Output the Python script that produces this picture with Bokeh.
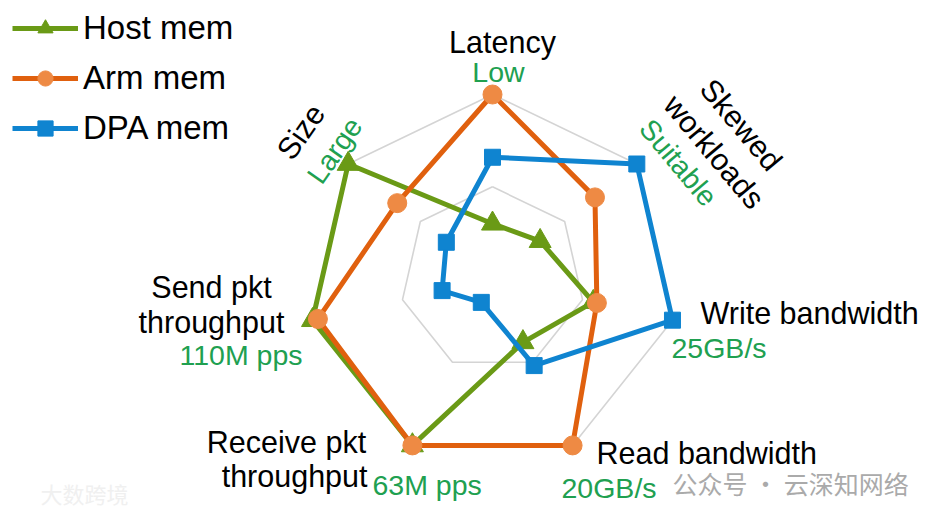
import numpy as np
from bokeh.plotting import figure
from bokeh.models import Range1d, Legend, LegendItem
from bokeh.core.properties import value
from bokeh.embed import file_html
from bokeh.resources import INLINE

# ---------------- data ----------------
categories = ["Latency", "Skewed workloads", "Write bandwidth", "Read bandwidth",
              "Receive pkt throughput", "Send pkt throughput", "Size"]
host_mem = [0.30, 0.33, 0.56, 0.38, 1.00, 1.00, 1.00]
arm_mem = [1.00, 0.71, 0.58, 1.00, 1.00, 0.97, 0.66]
dpa_mem = [0.66, 1.00, 1.00, 0.52, 0.14, 0.28, 0.32]
grid_levels = [0.5, 1.0]
series_names = ["Host mem", "Arm mem", "DPA mem"]
best_values = ["Low", "Suitable", "25GB/s", "20GB/s", "63M pps", "110M pps", "Large"]

# ---------------- layout ----------------
W, H = 925, 509
OFF = 0              # page offset of the plot frame
R = 184.6            # radius of outer ring in px
CX, CY = 492.0, 278.6  # centre in page px


def to_data(px, py):
    return (px - CX) / R, (CY - py) / R


n = len(categories)
angles = np.pi / 2 - np.arange(n) * 2 * np.pi / n


def polar(vals):
    v = np.asarray(vals, dtype=float)
    return list(v * np.cos(angles)), list(v * np.sin(angles))


p = figure(width=W, height=H, output_backend="svg", toolbar_location=None,
           x_range=Range1d((OFF - CX) / R, (OFF + W - CX) / R),
           y_range=Range1d((CY - OFF - H) / R, (CY - OFF) / R),
           min_border=0, outline_line_color=None)
p.axis.visible = False
p.grid.visible = False
p.background_fill_color = "white"
p.border_fill_color = "white"

# grid rings
for lv in grid_levels:
    xs, ys = polar([lv] * n)
    p.line(xs + xs[:1], ys + ys[:1], line_color="#D4D4D4", line_width=1.6)

GREEN = "#6A9A16"
ORANGE_L = "#E0600E"
ORANGE_M = "#EE8A44"
BLUE = "#0F84D0"
LABEL_GREEN = "#20A050"

# Host mem
xs, ys = polar(host_mem)
l1 = p.line(xs + xs[:1], ys + ys[:1], line_color=GREEN, line_width=5)
m1 = p.scatter(xs, ys, marker="triangle", size=22, fill_color=GREEN, line_color=GREEN)
# Arm mem
xs, ys = polar(arm_mem)
l2 = p.line(xs + xs[:1], ys + ys[:1], line_color=ORANGE_L, line_width=5)
m2 = p.scatter(xs, ys, marker="circle", size=19, fill_color=ORANGE_M, line_color=ORANGE_M)
# DPA mem
xs, ys = polar(dpa_mem)
l3 = p.line(xs + xs[:1], ys + ys[:1], line_color=BLUE, line_width=5)
m3 = p.scatter(xs, ys, marker="square", size=16, fill_color=BLUE, line_color=BLUE)

legend = Legend(items=[LegendItem(label=series_names[0], renderers=[l1, m1]),
                       LegendItem(label=series_names[1], renderers=[l2, m2]),
                       LegendItem(label=series_names[2], renderers=[l3, m3])],
                location=(12 - OFF, H - (7.75 - OFF) - 139.5), orientation="vertical",
                glyph_width=66, glyph_height=38, label_height=30, spacing=12,
                padding=0, margin=0, label_standoff=5,
                label_text_font="Liberation Sans", label_text_font_size="33px",
                label_text_color="black", border_line_color=None,
                background_fill_alpha=0)
p.add_layout(legend)


def txt(px, py, s, color="black", size="30.5px", align="center", baseline="middle", angle=0.0,
        font="Liberation Sans"):
    x, y = to_data(px, py)
    p.text(x=[x], y=[y], text=[s], text_color=color, text_font=value(font),
           text_font_size=size, text_align=align, text_baseline=baseline,
           angle=angle, angle_units="deg")


G = "28.5px"
# axis labels
txt(502, 41, "Latency")
txt(498, 71, best_values[0], color=LABEL_GREEN, size=G)

txt(741, 124, "Skewed", angle=-50)
txt(714, 151, "workloads", angle=-50)
txt(678, 162, best_values[1], color=LABEL_GREEN, size=G, angle=-50)

txt(700, 312, "Write bandwidth", align="left")
txt(671, 347, best_values[2], color=LABEL_GREEN, size=G, align="left")

txt(596, 452, "Read bandwidth", align="left")
txt(561, 487, best_values[3], color=LABEL_GREEN, size=G, align="left")

txt(286, 441, "Receive pkt")
txt(367, 475, "throughput", align="right")
txt(372, 484, best_values[4], color=LABEL_GREEN, size=G, align="left")

txt(211, 286, "Send pkt")
txt(211, 321, "throughput")
txt(302, 354, best_values[5], color=LABEL_GREEN, size=G, align="right")

txt(300, 131, "Size", angle=55)
txt(334, 150, best_values[6], color=LABEL_GREEN, size=G, angle=55)

# watermarks
txt(672, 482, "公众号 · 云深知网络", color="#AAAAAA", size="25px", align="left",
    font="Noto Sans CJK SC")
txt(40, 492, "大数跨境", color="#F0F0F0", size="22px", align="left",
    font="Noto Sans CJK SC")

open("out.html", "w").write(file_html(p, INLINE))
